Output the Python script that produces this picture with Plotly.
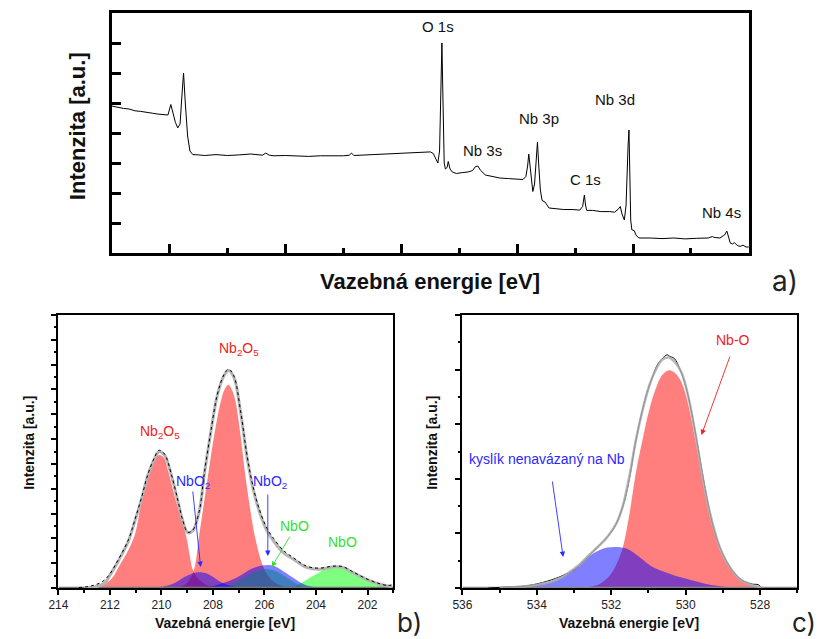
import plotly.graph_objects as go

# ---------------- DATA ----------------
# Panel a: survey spectrum (binding energy eV, intensity a.u.)
survey_e = [1100, 1090, 1080, 1070, 1060, 1050, 1040, 1030, 1020, 1010, 1003, 998, 995, 990, 986, 982,
            979, 976, 973, 969, 965, 960, 950, 940, 920, 900, 880, 860, 840, 834, 828, 820, 800, 780,
            760, 740, 720, 700, 690, 686, 682, 660, 640, 620, 600, 580, 565, 550, 545, 540, 537, 534,
            532, 530, 528, 526, 524, 521, 519, 516, 512, 505, 495, 485, 477, 472, 468, 463, 455, 445,
            430, 415, 400, 390, 385, 382, 380, 378, 375, 373, 370, 367, 365, 363, 360, 357, 352, 345,
            335, 320, 305, 292, 287, 284, 282, 280, 270, 255, 240, 232, 226, 222, 219, 215, 212, 210,
            208.5, 207, 205.5, 204, 202, 198, 195, 190, 170, 150, 130, 110, 90, 70, 63, 60, 50, 42,
            38, 35, 32, 28, 25, 20, 15, 10, 5, 0]
survey_i = [4.9, 4.85, 4.82, 4.8, 4.74, 4.72, 4.68, 4.66, 4.63, 4.62, 4.6, 4.95, 4.7, 4.35, 4.17, 4.3,
            5.2, 6.0, 5.0, 3.9, 3.4, 3.28, 3.27, 3.25, 3.28, 3.25, 3.27, 3.3, 3.26, 3.33, 3.26, 3.24, 3.25, 3.23,
            3.22, 3.24, 3.23, 3.24, 3.26, 3.33, 3.25, 3.27, 3.28, 3.3, 3.31, 3.34, 3.36, 3.37, 3.32, 3.1, 3.0, 3.4,
            5.5, 7.0, 5.0, 3.0, 2.8, 2.85, 3.05, 2.8, 2.7, 2.65, 2.68, 2.7, 2.75, 2.88, 2.9, 2.75, 2.6, 2.55,
            2.5, 2.48, 2.47, 2.45, 2.55, 2.9, 3.3, 2.9, 2.3, 2.05, 2.3, 3.2, 3.7, 3.0, 2.1, 1.75, 1.7, 1.5,
            1.47, 1.45, 1.45, 1.43, 1.55, 1.93, 1.6, 1.42, 1.42, 1.38, 1.38, 1.36, 1.45, 1.55, 1.3, 1.1, 1.6, 3.0,
            3.6, 4.1, 2.4, 1.1, 0.77, 0.75, 0.6, 0.5, 0.5, 0.48, 0.5, 0.47, 0.49, 0.5, 0.55, 0.52, 0.5, 0.6,
            0.73, 0.5, 0.33, 0.3, 0.35, 0.25, 0.22, 0.26, 0.2, 0.2]
survey_labels = ["O 1s", "Nb 3s", "Nb 3p", "C 1s", "Nb 3d", "Nb 4s"]

# Panel b: Nb 3d detail
b_red1_e = [212.6, 212.2, 211.9, 211.67, 211.3, 211.03, 210.77, 210.45, 210.25, 210.08, 209.9, 209.77,
            209.43, 209.04, 208.9, 208.77, 208.5, 208.2, 207.8]
b_red1_i = [0.02, 0.15, 0.42, 0.83, 1.5, 2.16, 3.49, 4.83, 5.25, 5.36, 5.25, 4.83,
            3.49, 2.1, 1.3, 0.7, 0.3, 0.1, 0.02]
b_red2_e = [209.4, 209.1, 208.9, 208.72, 208.53, 208.34, 208.15, 207.95, 207.7, 207.55, 207.4, 207.25,
            207.12, 206.93, 206.78, 206.6, 206.45, 206.3, 206.1, 205.9, 205.65, 205.3, 204.9]
b_red2_i = [0.02, 0.12, 0.35, 0.8, 2.16, 3.49, 4.83, 6.16, 7.49, 8.0, 8.19, 7.95,
            7.49, 6.16, 4.83, 3.49, 2.5, 1.75, 1.0, 0.55, 0.25, 0.08, 0.0]
b_blue1_e = [210.5, 210.1, 209.75, 209.45, 209.22, 208.95, 208.7, 208.51, 208.3, 208.05, 207.85, 207.68,
             207.45, 207.2, 206.8, 206.4]
b_blue1_i = [0.0, 0.04, 0.1, 0.22, 0.37, 0.52, 0.61, 0.63, 0.6, 0.48, 0.34, 0.23, 0.13, 0.06, 0.02, 0.0]
b_blue2_e = [208.4, 208.0, 207.7, 207.4, 207.17, 206.9, 206.65, 206.35, 206.1, 205.85, 205.65, 205.5,
             205.3, 205.12, 204.9, 204.73, 204.55, 204.35, 204.0, 203.6]
b_blue2_i = [0.0, 0.08, 0.17, 0.27, 0.37, 0.52, 0.7, 0.84, 0.91, 0.93, 0.9, 0.83,
             0.7, 0.57, 0.42, 0.3, 0.19, 0.1, 0.03, 0.0]
b_green2_e = [207.8, 207.4, 207.17, 206.9, 206.65, 206.35, 206.1, 205.9, 205.65, 205.4, 205.12, 204.9,
              204.7, 204.45, 204.1]
b_green2_i = [0.0, 0.08, 0.2, 0.35, 0.5, 0.66, 0.75, 0.77, 0.72, 0.6, 0.4, 0.26, 0.14, 0.05, 0.0]
b_green1_e = [205.1, 204.85, 204.67, 204.41, 204.2, 203.96, 203.7, 203.45, 203.26, 203.0, 202.68, 202.4,
              202.17, 201.9, 201.65, 201.4, 201.14, 201.0]
b_green1_i = [0.0, 0.06, 0.14, 0.3, 0.44, 0.57, 0.75, 0.86, 0.9, 0.85, 0.7, 0.52,
              0.37, 0.26, 0.17, 0.1, 0.06, 0.04]
b_env_e = [213.0, 212.6, 212.2, 212.05, 211.67, 211.28, 211.03, 210.77, 210.52, 210.26, 210.1, 209.88,
           209.62, 209.36, 209.17, 208.98, 208.79, 208.53, 208.34, 208.08, 207.83, 207.57, 207.4, 207.19,
           206.93, 206.67, 206.42, 206.16, 205.9, 205.65, 205.27, 204.88, 204.37, 203.86, 203.34, 202.96,
           202.58, 202.06, 201.55, 201.04]
b_env_i = [0.0, 0.04, 0.2, 0.43, 1.1, 1.9, 2.7, 3.6, 4.56, 5.23, 5.49, 5.36,
           4.56, 3.49, 2.7, 2.23, 2.3, 3.1, 4.56, 6.3, 7.76, 8.56, 8.76, 8.5,
           7.1, 5.23, 3.9, 2.96, 2.3, 1.9, 1.43, 1.16, 0.83, 0.76, 0.85, 0.83,
           0.63, 0.36, 0.16, 0.05]
b_data_e = [213.2, 212.9, 212.6, 212.3, 212.05, 211.67, 211.28, 211.03, 210.77, 210.52, 210.26, 210.1,
            209.88, 209.62, 209.36, 209.17, 208.98, 208.79, 208.53, 208.34, 208.08, 207.83, 207.57, 207.4,
            207.19, 206.93, 206.67, 206.42, 206.16, 205.9, 205.65, 205.27, 204.88, 204.37, 203.86, 203.34,
            202.96, 202.58, 202.06, 201.55, 201.2, 201.0]
b_data_i = [0.02, 0.05, 0.12, 0.25, 0.5, 1.15, 1.95, 2.75, 3.65, 4.6, 5.28, 5.55,
            5.4, 4.6, 3.52, 2.72, 2.25, 2.32, 3.1, 4.58, 6.32, 7.8, 8.6, 8.82,
            8.55, 7.15, 5.3, 3.98, 3.05, 2.4, 2.0, 1.52, 1.22, 0.88, 0.8, 0.88,
            0.86, 0.66, 0.38, 0.18, 0.1, 0.15]

# Panel c: O 1s detail
c_red_e = [533.0, 532.6, 532.3, 532.05, 531.85, 531.69, 531.51, 531.34, 531.16, 530.98, 530.8, 530.63,
           530.45, 530.27, 530.1, 529.92, 529.74, 529.57, 529.39, 529.21, 529.04, 528.77, 528.5, 528.15, 527.9]
c_red_i = [0.0, 0.02, 0.08, 0.22, 0.45, 0.74, 1.36, 2.1, 2.71, 3.26, 3.66, 3.9,
           3.99, 3.93, 3.75, 3.33, 2.71, 2.04, 1.42, 0.96, 0.63, 0.32, 0.13, 0.04, 0.0]
c_blue_e = [535.0, 534.6, 534.3, 534.0, 533.6, 533.3, 533.1, 532.85, 532.6, 532.35, 532.1, 531.82,
            531.55, 531.3, 531.1, 530.9, 530.6, 530.3, 530.03, 529.7, 529.31, 528.9, 528.4]
c_blue_i = [0.0, 0.01, 0.03, 0.06, 0.12, 0.21, 0.3, 0.42, 0.58, 0.68, 0.74, 0.75,
            0.71, 0.6, 0.49, 0.39, 0.3, 0.23, 0.18, 0.12, 0.055, 0.02, 0.0]
c_env_e = [535.0, 534.3, 534.0, 533.6, 533.3, 533.1, 532.85, 532.6, 532.35, 532.1, 531.85, 531.69,
           531.51, 531.34, 531.16, 530.98, 530.8, 530.63, 530.45, 530.27, 530.1, 529.92, 529.74, 529.57,
           529.39, 529.21, 529.04, 528.77, 528.5, 528.15, 527.9]
c_env_i = [0.0, 0.03, 0.06, 0.12, 0.21, 0.3, 0.43, 0.6, 0.76, 0.94, 1.2, 1.5,
           2.05, 2.7, 3.25, 3.7, 4.0, 4.18, 4.22, 4.12, 3.93, 3.48, 2.83, 2.13,
           1.5, 1.02, 0.67, 0.34, 0.14, 0.04, 0.0]
c_data_e = [535.3, 535.0, 534.7, 534.4, 534.1, 533.85, 533.6, 533.4, 533.2, 533.0, 532.85, 532.7,
            532.55, 532.4, 532.25, 532.1, 531.95, 531.8, 531.65, 531.5, 531.35, 531.2, 531.05, 530.9,
            530.75, 530.6, 530.5, 530.42, 530.3, 530.15, 530.0, 529.85, 529.7, 529.55, 529.4, 529.25,
            529.1, 528.95, 528.8, 528.65, 528.5, 528.35, 528.2, 528.05, 527.95]
c_data_i = [0.0, 0.01, 0.02, 0.03, 0.06, 0.1, 0.15, 0.2, 0.26, 0.33, 0.42, 0.52,
            0.62, 0.73, 0.83, 0.94, 1.07, 1.28, 1.58, 2.05, 2.65, 3.15, 3.55, 3.85,
            4.1, 4.22, 4.27, 4.24, 4.2, 4.0, 3.7, 3.25, 2.7, 2.1, 1.55, 1.1,
            0.78, 0.55, 0.37, 0.24, 0.15, 0.1, 0.07, 0.06, 0.0]

# ---------------- FIGURE ----------------
W, H = 819, 639
def PX(x):
    return x / W
def PY(y):
    return 1 - y / H

RED = "rgba(255,0,0,0.5)"
BLUE = "rgba(0,0,255,0.5)"
GREEN = "rgba(0,255,0,0.5)"
FONT = "Liberation Sans, Arial, sans-serif"

fig = go.Figure()

# panel a
fig.add_trace(go.Scatter(x=survey_e, y=survey_i, mode="lines", line=dict(color="black", width=1),
                         xaxis="x", yaxis="y", showlegend=False))

def fill_trace(x, y, color, xa, ya):
    return go.Scatter(x=x, y=y, mode="lines", fill="tozeroy", fillcolor=color,
                      line=dict(width=0, color=color, shape="spline"),
                      xaxis=xa, yaxis=ya, showlegend=False)

# panel b
fig.add_trace(fill_trace(b_red1_e, b_red1_i, RED, "x2", "y2"))
fig.add_trace(fill_trace(b_red2_e, b_red2_i, RED, "x2", "y2"))
fig.add_trace(fill_trace(b_green1_e, b_green1_i, GREEN, "x2", "y2"))
fig.add_trace(fill_trace(b_green2_e, b_green2_i, GREEN, "x2", "y2"))
fig.add_trace(fill_trace(b_blue1_e, b_blue1_i, BLUE, "x2", "y2"))
fig.add_trace(fill_trace(b_blue2_e, b_blue2_i, BLUE, "x2", "y2"))
fig.add_trace(go.Scatter(x=[214, 201], y=[0, 0], mode="lines", line=dict(color="#777777", width=2.5),
                         xaxis="x2", yaxis="y2", showlegend=False))
fig.add_trace(go.Scatter(x=b_env_e, y=b_env_i, mode="lines",
                         line=dict(color="#b4b4b4", width=3, shape="spline"),
                         xaxis="x2", yaxis="y2", showlegend=False))
fig.add_trace(go.Scatter(x=b_data_e, y=b_data_i, mode="lines",
                         line=dict(color="black", width=1.0, dash="dot", shape="spline"),
                         xaxis="x2", yaxis="y2", showlegend=False))

# panel c
fig.add_trace(fill_trace(c_red_e, c_red_i, RED, "x3", "y3"))
fig.add_trace(fill_trace(c_blue_e, c_blue_i, BLUE, "x3", "y3"))
fig.add_trace(go.Scatter(x=[536, 527], y=[0, 0], mode="lines", line=dict(color="#888888", width=2.5),
                         xaxis="x3", yaxis="y3", showlegend=False))
fig.add_trace(go.Scatter(x=c_data_e, y=c_data_i, mode="lines",
                         line=dict(color="black", width=1, shape="spline"),
                         xaxis="x3", yaxis="y3", showlegend=False))
fig.add_trace(go.Scatter(x=c_env_e, y=c_env_i, mode="lines",
                         line=dict(color="rgba(170,170,170,0.85)", width=2.5, shape="spline"),
                         xaxis="x3", yaxis="y3", showlegend=False))

ax_common = dict(showgrid=False, zeroline=False)
fig.update_layout(
    width=W, height=H, autosize=False,
    margin=dict(l=0, r=0, t=0, b=0),
    paper_bgcolor="white", plot_bgcolor="white",
    font=dict(family=FONT, color="#222222"),
    xaxis=dict(domain=[PX(103), PX(748)], anchor="y", range=[1100, 0], showticklabels=False,
               tick0=0, dtick=200, ticks="inside", ticklen=9, tickwidth=2.5, tickcolor="black",
               minor=dict(tick0=0, dtick=100, ticks="inside", ticklen=5, tickwidth=2.5, tickcolor="black"),
               showline=True, linewidth=3, linecolor="black", mirror=True, **ax_common),
    yaxis=dict(domain=[PY(253), PY(13)], anchor="x", range=[0, 8], showticklabels=False,
               tick0=0, dtick=1, ticks="inside", ticklen=9, tickwidth=2.5, tickcolor="black",
               showline=True, linewidth=3, linecolor="black", mirror=True, **ax_common),
    xaxis2=dict(domain=[PX(49), PX(388)], anchor="y2", range=[214, 201],
                tick0=0, dtick=2, ticks="outside", ticklen=5, tickwidth=1.5, tickcolor="black",
                minor=dict(tick0=0, dtick=1, ticks="outside", ticklen=3, tickwidth=1.5, tickcolor="black"),
                tickfont=dict(size=12, color="#222222"),
                showline=True, linewidth=1.5, linecolor="black", mirror=True, **ax_common),
    yaxis2=dict(domain=[PY(588), PY(315)], anchor="x2", range=[0, 11], showticklabels=False,
                tick0=0, dtick=1, ticks="outside", ticklen=5, tickwidth=1.5, tickcolor="black",
                minor=dict(tick0=0, dtick=0.5, ticks="outside", ticklen=2.5, tickwidth=1.5, tickcolor="black"),
                showline=True, linewidth=2, linecolor="black", mirror=True, **ax_common),
    xaxis3=dict(domain=[PX(458), PX(797)], anchor="y3", range=[536, 527],
                tick0=0, dtick=2, ticks="outside", ticklen=5, tickwidth=1.5, tickcolor="black",
                minor=dict(tick0=0, dtick=1, ticks="outside", ticklen=3, tickwidth=1.5, tickcolor="black"),
                tickfont=dict(size=12, color="#222222"),
                showline=True, linewidth=1.5, linecolor="black", mirror=True, **ax_common),
    yaxis3=dict(domain=[PY(588), PY(315)], anchor="x3", range=[0, 5], showticklabels=False,
                tick0=0, dtick=1, ticks="outside", ticklen=5, tickwidth=1.5, tickcolor="black",
                minor=dict(tick0=0, dtick=0.5, ticks="outside", ticklen=2.5, tickwidth=1.5, tickcolor="black"),
                showline=True, linewidth=2, linecolor="black", mirror=True, **ax_common),
)

ann = []
def text(x, y, s, size, color="#222222", bold=False, angle=0, family=FONT):
    ann.append(dict(x=PX(x), y=PY(y), xref="paper", yref="paper", text=("<b>%s</b>" % s) if bold else s,
                    showarrow=False, textangle=angle, xanchor="center", yanchor="middle",
                    font=dict(size=size, color=color, family=family)))

def arrow(hx, hy, tx, ty, color):
    ann.append(dict(x=PX(hx), y=PY(hy), xref="paper", yref="paper", text="", showarrow=True,
                    ax=tx - hx, ay=ty - hy, arrowhead=2, arrowsize=1.2, arrowwidth=0.9,
                    arrowcolor=color, standoff=0, startstandoff=0))

# panel a texts
label_pos = [(433, 26), (478, 151), (536, 118), (583, 179), (612, 99), (720, 212)]
for lab, (lx, ly) in zip(survey_labels, label_pos):
    text(lx, ly, lab, 15, "#111111")
text(425, 282, "Vazebná energie [eV]", 22, "#111111", bold=True)
text(69, 126, "Intenzita [a.u.]", 22, "#111111", bold=True, angle=-90)
text(785, 281, "a)", 28, "#222222", family="Inter, Roboto, sans-serif")

# panel b texts
RT, BT, GT = "#ee2222", "#2a2aff", "#33dd33"
text(152, 432, "Nb<sub>2</sub>O<sub>5</sub>", 14, RT)
text(232, 349, "Nb<sub>2</sub>O<sub>5</sub>", 14, RT)
text(185, 482, "NbO<sub>2</sub>", 14, BT)
text(263, 482, "NbO<sub>2</sub>", 14, BT)
text(288, 526, "NbO", 14, GT)
text(337, 542, "NbO", 14, GT)
arrow(193, 567, 185, 490, BT)
arrow(261, 556, 261, 493, BT)
arrow(265, 567, 284, 535, GT)
text(218, 623, "Vazebná energie [eV]", 14, "#111111", bold=True)
text(19, 443, "Intenzita [a.u.]", 14, "#111111", bold=True, angle=-90)
text(404, 622, "b)", 26, "#222222", family="Inter, Roboto, sans-serif")

# panel c texts
text(732, 340, "Nb-O", 14, RT)
arrow(700, 435, 729, 355, RT)
text(544, 459, "kyslík nenavázaný na Nb", 14, BT)
arrow(560, 557, 549, 480, BT)
text(627, 623, "Vazebná energie [eV]", 14, "#111111", bold=True)
text(427, 443, "Intenzita [a.u.]", 14, "#111111", bold=True, angle=-90)
text(804, 622, "c)", 26, "#222222", family="Inter, Roboto, sans-serif")

fig.update_layout(annotations=ann)
fig.write_html("out.html", config={"displayModeBar": False},
               post_script="document.body.style.margin='0px';document.body.style.overflow='hidden';")
